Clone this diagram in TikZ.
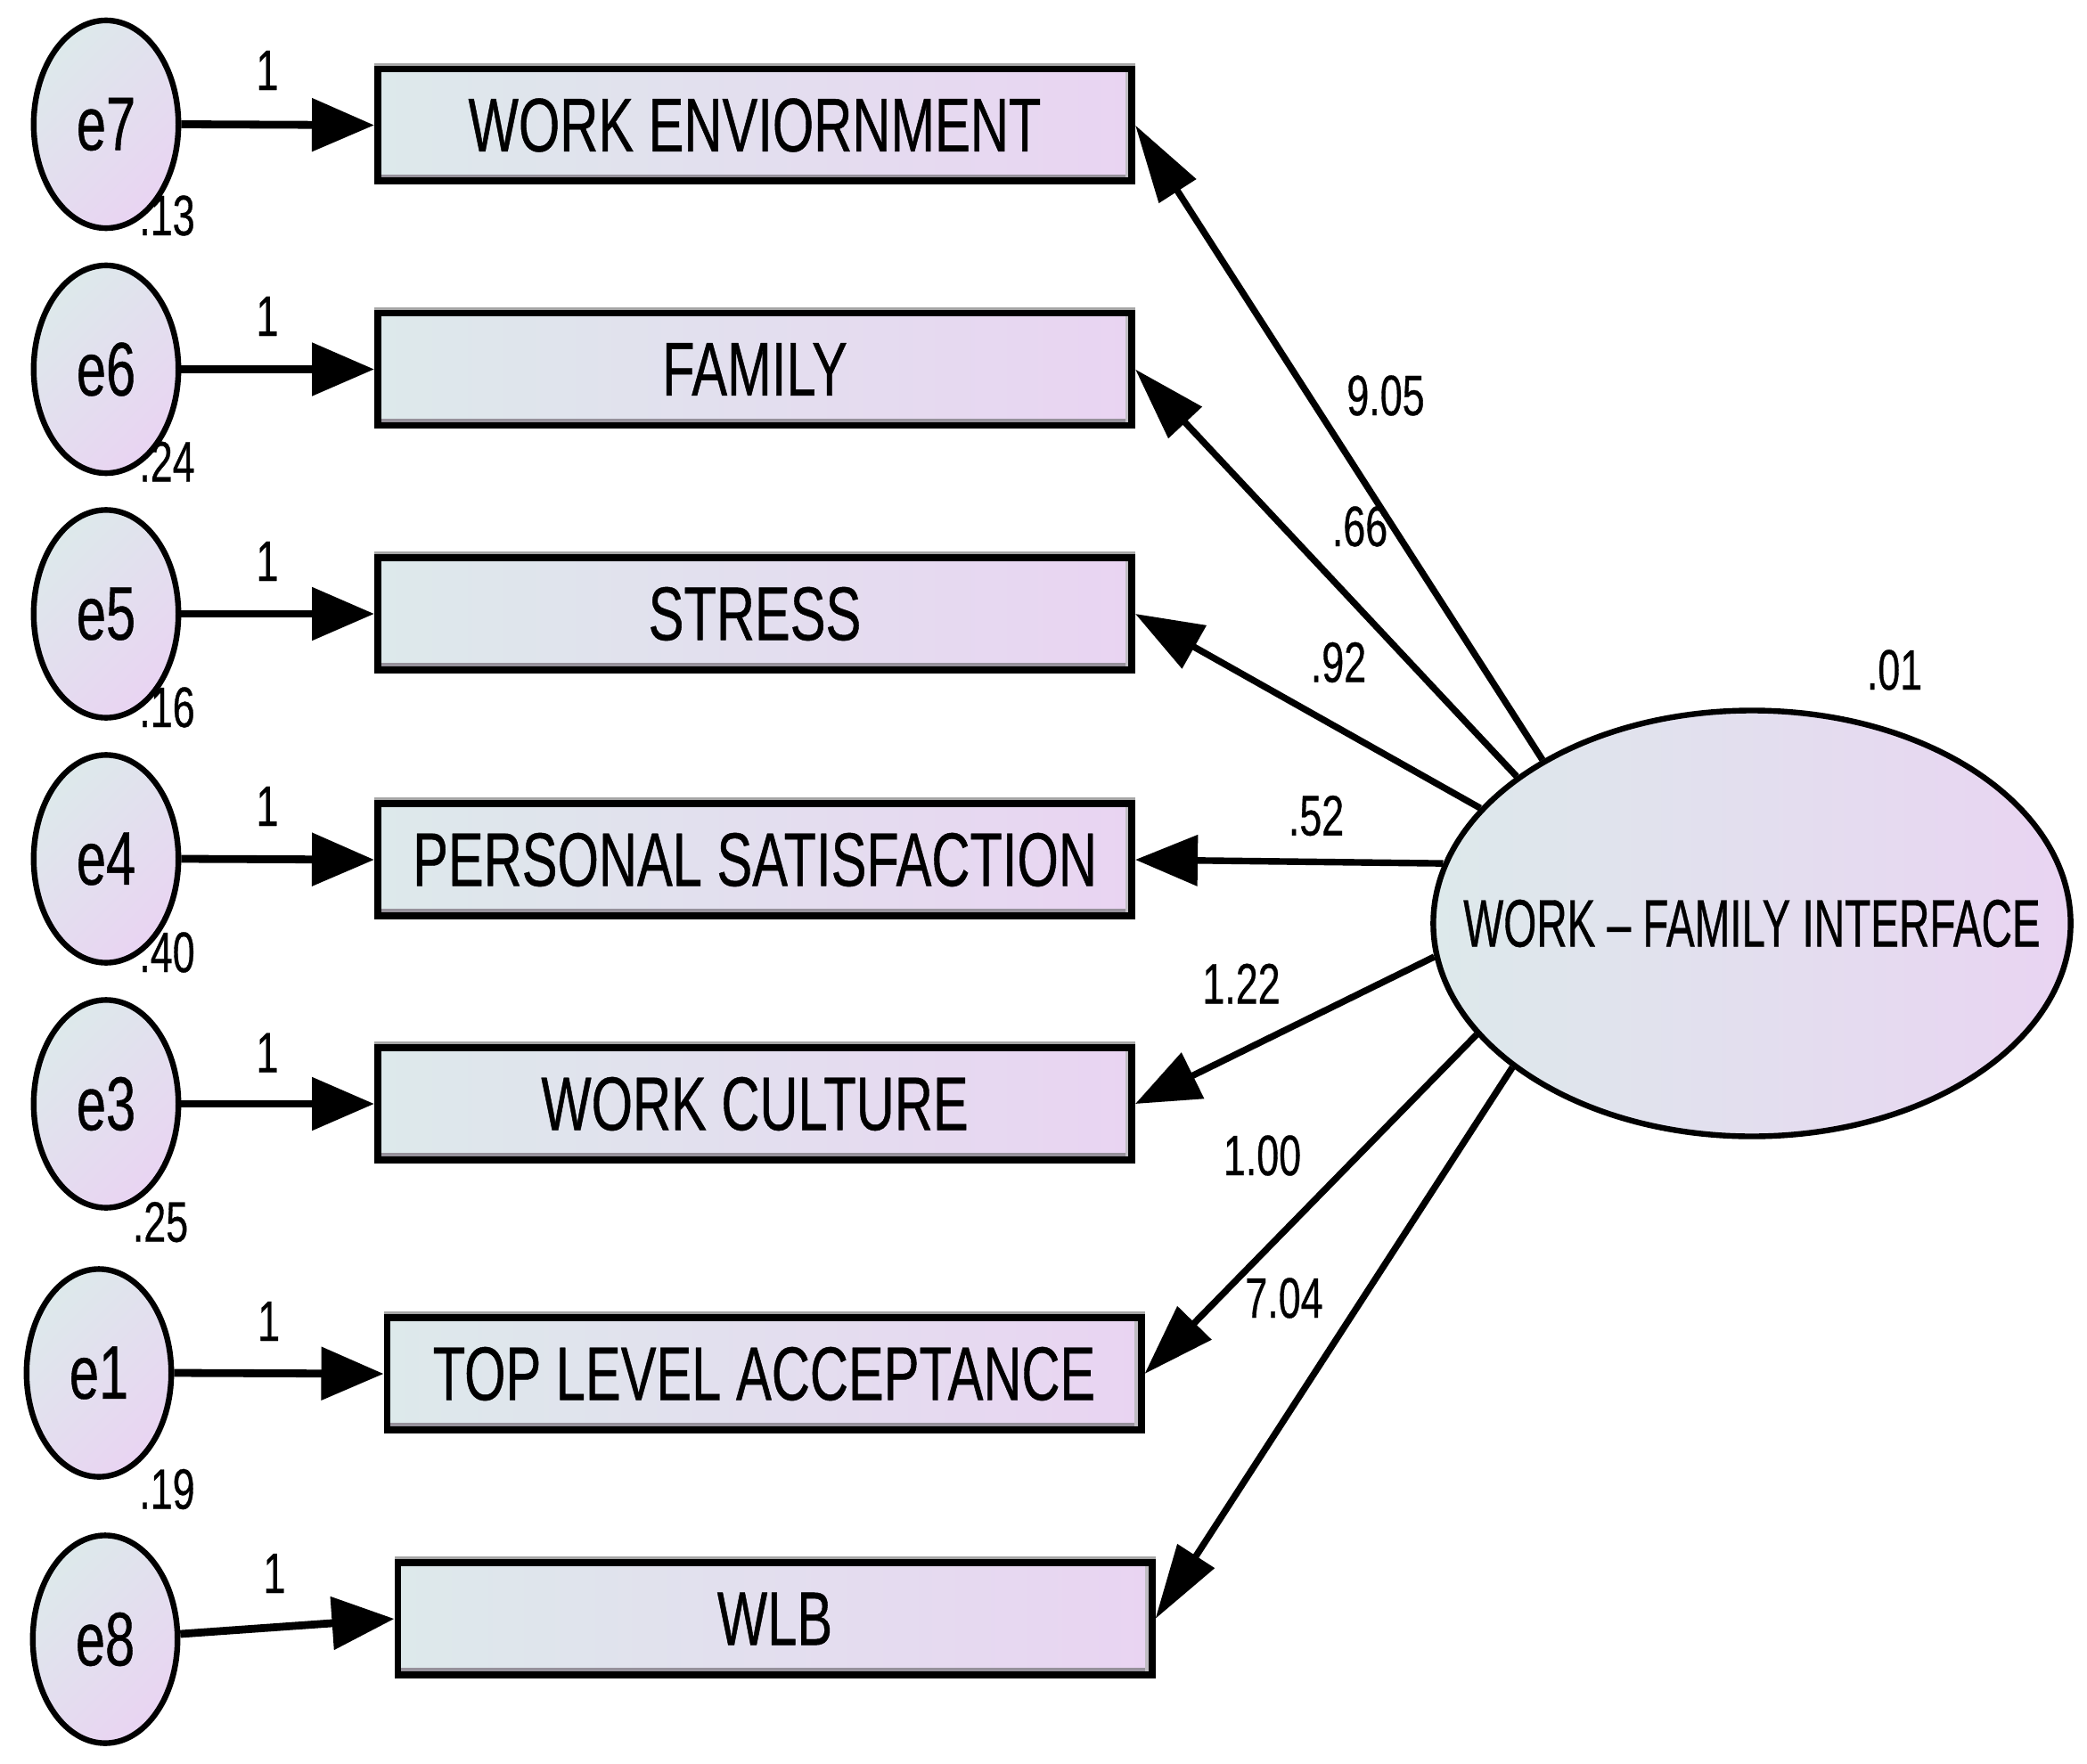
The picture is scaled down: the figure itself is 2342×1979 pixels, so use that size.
\documentclass[tikz,border=0pt]{standalone}
\usepackage{fontspec}
\setmainfont[FakeStretch=0.70,FakeBold=0.5]{Liberation Sans}
\newfontfamily\wfifont[FakeStretch=0.63,FakeBold=0.5]{Liberation Sans}
\usetikzlibrary{arrows.meta,shapes.geometric}
\definecolor{clrA}{RGB}{221,233,235}
\definecolor{clrB}{RGB}{233,212,242}
\definecolor{bevel}{RGB}{150,145,155}
\begin{document}
\begin{tikzpicture}[x=0.25pt,y=-0.25pt,
  obs/.style={draw=black, line width=1.9pt, left color=clrA, right color=clrB,
    minimum width=211.6pt, minimum height=31.4pt, inner sep=0pt,
    font=\fontsize{21.3}{24}\selectfont,
    preaction={draw=gray!70, line width=1.9pt, transform canvas={yshift=0.8pt}},
    path picture={\fill[bevel] ([yshift=1.9pt]path picture bounding box.south west) rectangle
       ([xshift=-0.95pt]path picture bounding box.south east);
       \fill[bevel!60] ([xshift=-1.9pt]path picture bounding box.south east) rectangle
       ([xshift=-0.95pt]path picture bounding box.north east);}},
  err/.style={ellipse, draw=black, line width=1.6pt, left color=clrA, right color=clrB,
    shading angle=45, minimum width=40.6pt, minimum height=58.3pt, inner sep=0pt,
    font=\fontsize{21.3}{24}\selectfont},
  lat/.style={ellipse, draw=black, line width=1.6pt, left color=clrA, right color=clrB,
    minimum width=178.8pt, minimum height=119.5pt, inner sep=0pt},
  lattext/.style={inner sep=0pt, font=\wfifont\fontsize{18.9}{22}\selectfont},
  lbl/.style={inner sep=0pt, font=\fontsize{16}{18}\selectfont},
  earr/.style={line width=2.2pt, -{Triangle[length=17.5pt,width=14.5pt]}},
  larr/.style 2 args={line width=1.85pt, -{Triangle[length=#1,width=#2]}}
]
\useasboundingbox (0,0) rectangle (2342,1979);

% observed variables
\node[obs] (we)  at (847,140.5) {WORK ENVIORNMENT};
\node[obs] (fam) at (847,414.5) {FAMILY};
\node[obs] (str) at (847,689)   {STRESS};
\node[obs] (ps)  at (847,965)   {PERSONAL SATISFACTION};
\node[obs] (wc)  at (847,1239)  {WORK CULTURE};
\node[obs] (tla) at (857.5,1542) {TOP LEVEL ACCEPTANCE};
\node[obs] (wlb) at (869.5,1817) {WLB};

% error terms
\node[err] (e7) at (119,139.5) {e7};
\node[err] (e6) at (119,414.5) {e6};
\node[err] (e5) at (119,689)   {e5};
\node[err] (e4) at (119,964)   {e4};
\node[err] (e3) at (119,1239)  {e3};
\node[err] (e1) at (111,1541)  {e1};
\node[err] (e8) at (118,1840)  {e8};

% latent
\node[lat, label={[lattext]center:WORK – FAMILY INTERFACE}] (wfi) at (1966,1036.5) {};

% error arrows
\draw[earr] (e7.east) -- (we.west);
\draw[earr] (e6.east) -- (fam.west);
\draw[earr] (e5.east) -- (str.west);
\draw[earr] (e4.east) -- (ps.west);
\draw[earr] (e3.east) -- (wc.west);
\draw[earr] (e1.east) -- (tla.west);
\draw[earr] (e8) -- (wlb.west);

% loadings
\draw[larr={22pt}{12pt}]    (wfi.142.8) -- (we.east);
\draw[larr={20.5pt}{12.5pt}]    (wfi.148.7) -- (fam.east);
\draw[larr={19pt}{13.5pt}] (wfi.157.7) -- (str.east);
\draw[larr={17.5pt}{14pt}] (wfi.169.8) -- (ps.east);
\draw[larr={18pt}{14pt}] (wfi.186.8) -- (wc.east);
\draw[larr={20pt}{13pt}] (wfi.202) -- (tla.east);
\draw[larr={21pt}{12pt}]   (wfi.211.2) -- (wlb.east);

% regression weights of errors
\node[lbl] (w7) at (300,79)     {1};
\node[lbl] (w6) at (300,355)    {1};
\node[lbl] (w5) at (300,630)    {1};
\node[lbl] (w4) at (300,905)    {1};
\node[lbl] (w3) at (300,1181.7) {1};
\node[lbl] (w1) at (301.7,1483) {1};
\node[lbl] (w8) at (308,1766)   {1};

% variances
\node[lbl] (v7) at (187.5,242)   {.13};
\node[lbl] (v6) at (187.5,518)   {.24};
\node[lbl] (v5) at (187.5,794)   {.16};
\node[lbl] (v4) at (187.5,1069)  {.40};
\node[lbl] (v3) at (180,1371.7)  {.25};
\node[lbl] (v1) at (187.5,1671.5) {.19};
\node[lbl] (vw) at (2126,752)    {.01};

% loading values
\node[lbl] (l1) at (1555,444)    {9.05};
\node[lbl] (l2) at (1526,591)    {.66};
\node[lbl] (l3) at (1502,743.5)  {.92};
\node[lbl] (l4) at (1477,915.6)  {.52};
\node[lbl] (l5) at (1393,1104)   {1.22};
\node[lbl] (l6) at (1416.5,1297) {1.00};
\node[lbl] (l7) at (1441,1457)   {7.04};
\end{tikzpicture}
\end{document}
